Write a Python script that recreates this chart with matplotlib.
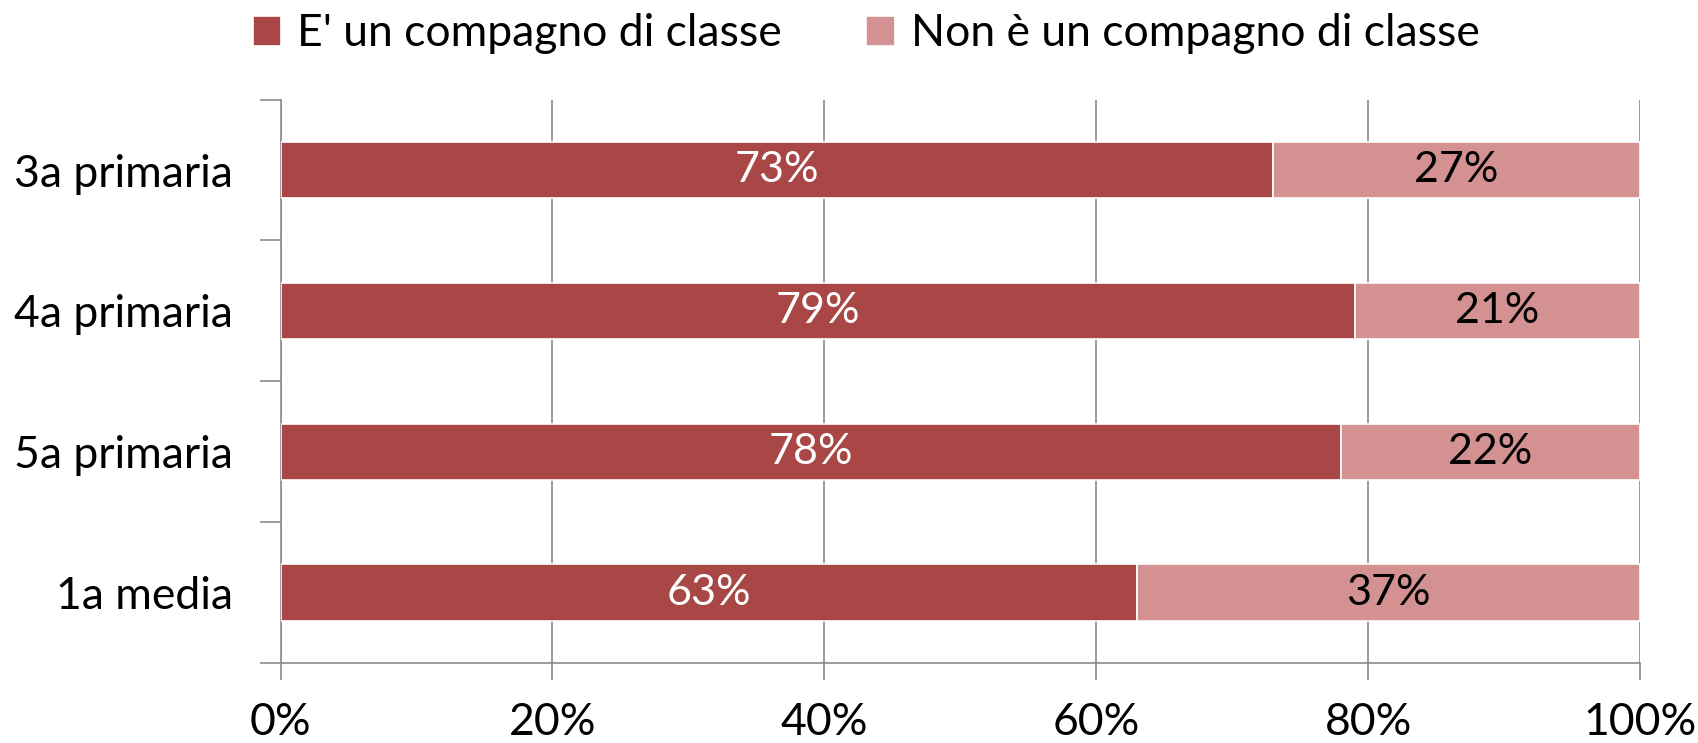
import matplotlib.pyplot as plt
import numpy as np

plt.rcParams['font.family'] = ['Lato', 'DejaVu Sans']

categories = ["3a primaria", "4a primaria", "5a primaria", "1a media"]
compagno = [73, 79, 78, 63]
non_compagno = [27, 21, 22, 37]
series_names = ["E' un compagno di classe", "Non è un compagno di classe"]
tick_labels = ["0%", "20%", "40%", "60%", "80%", "100%"]

dark = "#A94646"
light = "#D39191"
grid_col = "#8C8C8C"

fig = plt.figure(figsize=(16.98, 7.43), dpi=100)
ax = fig.add_axes([280.5 / 1698, 1 - 663 / 743, (1640 - 280.5) / 1698, (663 - 99.6) / 743])

y = np.arange(len(categories))
h = 0.4
b1 = ax.barh(y, compagno, height=h, color=dark, edgecolor="white", linewidth=1.2,
             label=series_names[0], zorder=3)
b2 = ax.barh(y, non_compagno, left=compagno, height=h, color=light, edgecolor="white",
             linewidth=1.2, label=series_names[1], zorder=3)

for i in range(len(categories)):
    ax.text(compagno[i] / 2, y[i], f"{compagno[i]}%", ha="center", va="center",
            color="white", fontsize=31, zorder=4)
    ax.text(compagno[i] + non_compagno[i] / 2, y[i], f"{non_compagno[i]}%", ha="center",
            va="center", color="black", fontsize=31, zorder=4)

ax.set_xlim(0, 100)
ax.set_ylim(len(categories) - 0.5, -0.5)
ax.set_xticks(np.arange(0, 101, 20))
ax.set_xticklabels(tick_labels, fontsize=32)
ax.set_yticks(y)
ax.set_yticklabels(categories, fontsize=32)
ax.tick_params(axis="y", length=0, pad=34)
ax.set_yticks(np.arange(-0.5, len(categories), 1), minor=True)
ax.tick_params(axis="y", which="minor", length=15, color=grid_col, width=1.2, direction="out")
ax.tick_params(axis="x", length=12, color=grid_col, width=1.2, direction="out", pad=16)

ax.grid(axis="x", color=grid_col, linewidth=1.2, zorder=0)
for s in ["top", "right"]:
    ax.spines[s].set_visible(False)
for s in ["left", "bottom"]:
    ax.spines[s].set_color(grid_col)
    ax.spines[s].set_linewidth(1.2)

fig.legend(handles=[b1, b2], loc="center", bbox_to_anchor=(0.51, 1 - 34 / 743), ncol=2,
           frameon=False, fontsize=32, handlelength=0.65, handleheight=0.65,
           handletextpad=0.35, columnspacing=1.9)

fig.savefig("out.png", dpi=100)
